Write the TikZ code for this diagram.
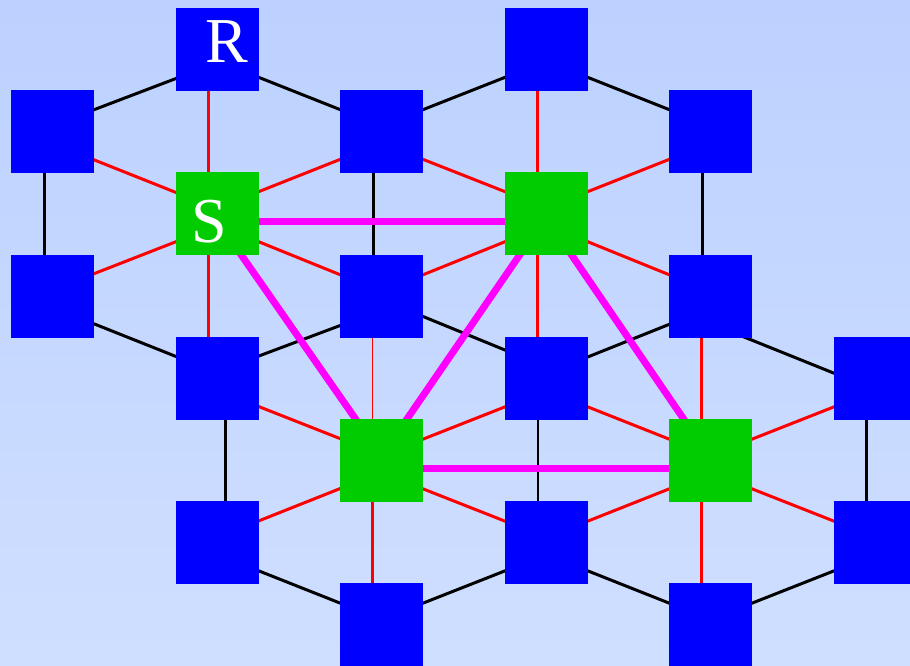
\documentclass[tikz,border=0pt]{standalone}
\usepackage{fontspec}
\setmainfont{Liberation Serif}
\usetikzlibrary{calc}
\definecolor{bgtop}{RGB}{188,209,255}
\definecolor{bgbot}{RGB}{207,223,255}
\definecolor{nodeblue}{RGB}{0,0,255}
\definecolor{nodegreen}{RGB}{0,204,0}
\definecolor{linkred}{RGB}{255,0,0}
\definecolor{linkmag}{RGB}{255,0,255}
\tikzset{
  sq/.style={minimum width=83pt,minimum height=83pt,inner sep=0pt,outer sep=0pt,draw=none},
  bluebox/.style={sq,fill=nodeblue},
  greenbox/.style={sq,fill=nodegreen},
  lbl/.style={text=white,font=\fontsize{64}{64}\selectfont,inner sep=0pt},
  hexline/.style={draw=black,line width=3pt},
  hexthin/.style={draw=black,line width=1.6pt},
  triline/.style={draw=linkred,line width=3pt},
  trithin/.style={draw=linkred,line width=1.6pt},
  pathline/.style={draw=linkmag,line width=7pt}
}
\begin{document}
\begin{tikzpicture}[x=1pt,y=-1pt]
\useasboundingbox (0,0) rectangle (910,665);
\clip (0,0) rectangle (910,665);
\shade[top color=bgtop,bottom color=bgbot] (0,0) rectangle (910,665);
% node positions
\coordinate (pR) at (217.5,49);
\coordinate (p1) at (546.5,49);
\coordinate (p2) at (52.5,131);
\coordinate (p3) at (381.5,131);
\coordinate (p4) at (710.5,131);
\coordinate (pS) at (217.5,213);
\coordinate (pG1) at (546.5,213);
\coordinate (p5) at (52.5,296.5);
\coordinate (p6) at (381.5,296.5);
\coordinate (p7) at (710.5,296.5);
\coordinate (p8) at (217.5,378.5);
\coordinate (p9) at (546.5,378.5);
\coordinate (p10) at (875.5,378.5);
\coordinate (pG2) at (381.5,460.5);
\coordinate (pG3) at (710.5,460.5);
\coordinate (p11) at (217.5,542.5);
\coordinate (p12) at (546.5,542.5);
\coordinate (p13) at (875.5,542.5);
\coordinate (p14) at (381.5,624.5);
\coordinate (p15) at (710.5,624.5);
% black hexagonal links
\path[hexline] ($(pR)+(0,13.7)$) -- ($(p2)+(0,-5.5)$);
\path[hexline] ($(pR)+(0,12)$) -- ($(p3)+(0,-5)$);
\path[hexline] ($(p1)+(0,12)$) -- ($(p3)+(0,-5)$);
\path[hexline] ($(p1)+(0,12)$) -- ($(p4)+(0,-5)$);
\path[hexline] ($(p2)+(-8.5,0)$) -- ($(p5)+(-8.5,0)$);
\path[hexline] ($(p3)+(-8.5,0)$) -- ($(p6)+(-8.5,0)$);
\path[hexline] ($(p4)+(-8.5,0)$) -- ($(p7)+(-8.5,0)$);
\path[hexline] ($(p5)+(0,10.8)$) -- ($(p8)+(0,-5.5)$);
\path[hexline] ($(p6)+(0,13.5)$) -- ($(p8)+(0,-7)$);
\path[hexline] ($(p6)+(0,3)$) -- ($(p9)+(0,-11.5)$);
\path[hexline] ($(p7)+(0,11.3)$) -- ($(p9)+(0,-5)$);
\path[hexline] ($(p7)+(0,27)$) -- ($(p10)+(0,11.4)$);
\path[hexline] ($(p8)+(7.5,0)$) -- ($(p11)+(7.5,0)$);
\path[hexthin] ($(p9)+(-8.5,0)$) -- ($(p12)+(-8.5,0)$);
\path[hexline] ($(p10)+(-8.8,0)$) -- ($(p13)+(-8.8,0)$);
\path[hexline] ($(p11)+(0,12)$) -- ($(p14)+(0,-5)$);
\path[hexline] ($(p12)+(0,12)$) -- ($(p14)+(0,-5)$);
\path[hexline] ($(p12)+(0,12)$) -- ($(p15)+(0,-5)$);
\path[hexline] ($(p13)+(0,12)$) -- ($(p15)+(0,-5)$);
% red links
\path[triline] ($(pS)+(-9.5,0)$) -- ($(pR)+(-9.5,0)$);
\path[triline] ($(p2)+(0,12.3)$) -- ($(pS)+(0,-4)$);
\path[triline] ($(p3)+(0,12)$) -- ($(pS)+(0,-5)$);
\path[triline] ($(pS)+(0,12.5)$) -- ($(p5)+(0,-6.6)$);
\path[triline] ($(pS)+(0,12)$) -- ($(p6)+(0,-5)$);
\path[triline] ($(pS)+(-9.5,0)$) -- ($(p8)+(-9.5,0)$);
\path[triline] ($(pG1)+(-9,0)$) -- ($(p1)+(-9,0)$);
\path[triline] ($(p3)+(0,12)$) -- ($(pG1)+(0,-5)$);
\path[triline] ($(p4)+(0,12)$) -- ($(pG1)+(0,-5)$);
\path[triline] ($(pG1)+(0,12)$) -- ($(p6)+(0,-5)$);
\path[triline] ($(pG1)+(0,12)$) -- ($(p7)+(0,-5)$);
\path[triline] ($(pG1)+(-9,0)$) -- ($(p9)+(-9,0)$);
\path[trithin] ($(pG2)+(-9,0)$) -- ($(p6)+(-9,0)$);
\path[triline] ($(p8)+(0,11.8)$) -- ($(pG2)+(0,-5.6)$);
\path[triline] ($(p9)+(0,12)$) -- ($(pG2)+(0,-5)$);
\path[triline] ($(pG2)+(0,11.6)$) -- ($(p11)+(0,-5.2)$);
\path[triline] ($(pG2)+(0,12)$) -- ($(p12)+(0,-5)$);
\path[triline] ($(pG2)+(-9,0)$) -- ($(p14)+(-9,0)$);
\path[triline] ($(pG3)+(-9,0)$) -- ($(p7)+(-9,0)$);
\path[triline] ($(p9)+(0,12)$) -- ($(pG3)+(0,-5)$);
\path[triline] ($(p10)+(0,12)$) -- ($(pG3)+(0,-5)$);
\path[triline] ($(pG3)+(0,12)$) -- ($(p12)+(0,-5)$);
\path[triline] ($(pG3)+(0,12)$) -- ($(p13)+(0,-5)$);
\path[triline] ($(pG3)+(-9,0)$) -- ($(p15)+(-9,0)$);
% magenta path
\path[pathline] ($(pS)+(0,8.5)$) -- ($(pG1)+(0,8.5)$);
\path[pathline] ($(pG2)+(0,8)$) -- ($(pG3)+(0,8)$);
\path[pathline] ($(pS)+(-5.5,0)$) -- ($(pG2)+(3,0)$);
\path[pathline] ($(pG1)+(2,0)$) -- ($(pG2)+(-3,0)$);
\path[pathline] ($(pG1)+(-3.6,0)$) -- ($(pG3)+(1.5,0)$);
% nodes
\node[bluebox,label={[lbl,xshift=9pt,yshift=7pt]center:R}] (R) at (pR) {};
\node[bluebox] (B1) at (p1) {};
\node[bluebox] (B2) at (p2) {};
\node[bluebox] (B3) at (p3) {};
\node[bluebox] (B4) at (p4) {};
\node[greenbox,label={[lbl,xshift=-8pt,yshift=-9pt]center:S}] (S) at (pS) {};
\node[greenbox] (G1) at (pG1) {};
\node[bluebox] (B5) at (p5) {};
\node[bluebox] (B6) at (p6) {};
\node[bluebox] (B7) at (p7) {};
\node[bluebox] (B8) at (p8) {};
\node[bluebox] (B9) at (p9) {};
\node[bluebox] (B10) at (p10) {};
\node[greenbox] (G2) at (pG2) {};
\node[greenbox] (G3) at (pG3) {};
\node[bluebox] (B11) at (p11) {};
\node[bluebox] (B12) at (p12) {};
\node[bluebox] (B13) at (p13) {};
\node[bluebox] (B14) at (p14) {};
\node[bluebox] (B15) at (p15) {};
\end{tikzpicture}
\end{document}
